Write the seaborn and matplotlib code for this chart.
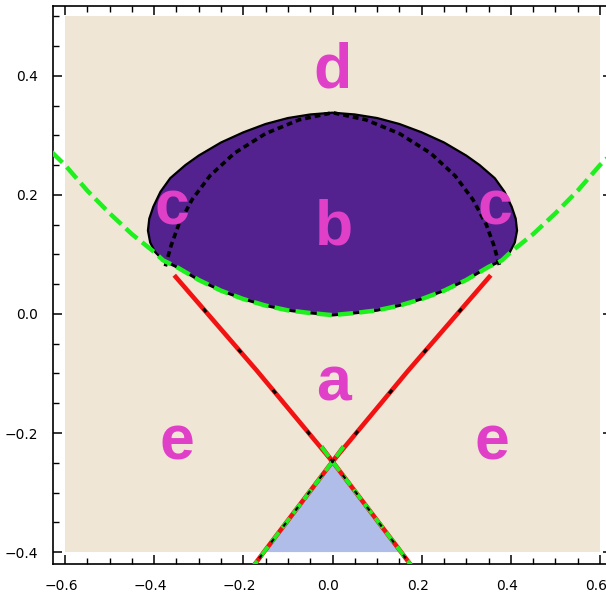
import numpy as np
import matplotlib
matplotlib.use("Agg")
import matplotlib.pyplot as plt
import matplotlib.transforms as mtransforms
import seaborn as sns
from matplotlib.ticker import MultipleLocator

# ---- data ----
region_x = [-0.6, 0.6]
region_y = [-0.4, 0.5]

# green dashed curve (lower edge of the purple region and its continuation)
green_x = [-0.63, -0.6, -0.55, -0.5, -0.45, -0.4, -0.38, -0.35, -0.3, -0.25, -0.2, -0.15, -0.1, -0.05,
           0.0, 0.05, 0.1, 0.15, 0.2, 0.25, 0.3, 0.35, 0.38, 0.4, 0.45, 0.5, 0.55, 0.6, 0.63]
green_y = [0.272, 0.25, 0.207, 0.169, 0.134, 0.104, 0.09, 0.079, 0.057, 0.039, 0.025, 0.014, 0.006, 0.0015,
           -0.002, 0.0015, 0.006, 0.014, 0.025, 0.039, 0.057, 0.079, 0.09, 0.104, 0.134, 0.169, 0.207, 0.25, 0.272]

# upper boundary of the purple region
ell_x = [-0.38, -0.398, -0.409, -0.414, -0.411, -0.402, -0.386, -0.364, -0.33, -0.3, -0.25, -0.2, -0.15,
         -0.1, -0.05, 0.0, 0.05, 0.1, 0.15, 0.2, 0.25, 0.3, 0.33, 0.364, 0.386, 0.402, 0.411, 0.414,
         0.409, 0.398, 0.38]
ell_y = [0.09, 0.104, 0.12, 0.14, 0.16, 0.18, 0.205, 0.228, 0.25, 0.266, 0.288, 0.305, 0.319,
         0.329, 0.335, 0.338, 0.335, 0.329, 0.319, 0.305, 0.288, 0.266, 0.25, 0.228, 0.205, 0.18, 0.16, 0.14,
         0.12, 0.104, 0.09]

# black dotted arc inside the purple region
dot_x = [-0.375, -0.362, -0.345, -0.315, -0.275, -0.22, -0.15, -0.075, 0.0,
         0.075, 0.15, 0.22, 0.275, 0.315, 0.345, 0.362, 0.375]
dot_y = [0.08, 0.115, 0.15, 0.192, 0.232, 0.27, 0.303, 0.326, 0.338,
         0.326, 0.303, 0.27, 0.232, 0.192, 0.15, 0.115, 0.08]

# red lines above the crossing
red_left_x = [-0.355, -0.17, 0.0]
red_left_y = [0.065, -0.095, -0.248]
red_right_x = [0.355, 0.17, 0.0]
red_right_y = [0.065, -0.095, -0.248]

# lines below the crossing (edges of the blue triangle)
low_left_x = [0.025, 0.0, -0.156, -0.19]
low_left_y = [-0.223, -0.248, -0.402, -0.436]
low_right_x = [-0.025, 0.0, 0.156, 0.19]
low_right_y = [-0.223, -0.248, -0.402, -0.436]

tri_x = [0.0, -0.153, 0.153]
tri_y = [-0.248, -0.4, -0.4]

labels = ["d", "b", "c", "c", "a", "e", "e"]
label_x = [0.0, 0.003, -0.36, 0.365, 0.003, -0.35, 0.357]
label_y = [0.38, 0.116, 0.15, 0.15, -0.145, -0.245, -0.245]

# ---- colours ----
beige = "#EFE6D6"
purple = "#54228F"
lightblue = "#B0BDE8"
magenta = "#E03FC8"
red = "#F21212"
green = "#1EF01E"

fig = plt.figure(figsize=(6.06, 5.96), dpi=100)
ax = fig.add_axes([53 / 606, 32 / 596, 559 / 606, 558.5 / 596])
ax.set_facecolor("white")

ax.fill_between(region_x, region_y[0], region_y[1], color=beige, lw=0, zorder=0)
ax.fill(tri_x, tri_y, color=lightblue, lw=0, zorder=1)

gx = np.array(green_x)
gy = np.array(green_y)
inside = np.abs(gx) <= 0.38
poly_x = list(ell_x) + list(gx[inside][::-1])
poly_y = list(ell_y) + list(gy[inside][::-1])
ax.fill(poly_x, poly_y, color=purple, lw=0, zorder=2)

def line(x, y, **kw):
    sns.lineplot(x=x, y=y, sort=False, estimator=None, ax=ax, legend=False, **kw)

line(ell_x, ell_y, color="black", linewidth=1.6, zorder=3)
line(dot_x, dot_y, color="black", linewidth=2.6, linestyle=(0, (1.6, 1.1)), zorder=3)

# red lines
for xs, ys in [(red_left_x, red_left_y), (red_right_x, red_right_y),
               (low_left_x, low_left_y), (low_right_x, low_right_y)]:
    line(xs, ys, color=red, linewidth=3.3, zorder=4, solid_capstyle="butt")
for xs, ys in [(red_left_x, red_left_y), (red_right_x, red_right_y)]:
    line(xs, ys, color="black", linewidth=2.2, linestyle=(3, (1.5, 16)), zorder=5)

# black line under green along the bottom of the purple region
line(list(gx[inside]), list(gy[inside]), color="black", linewidth=2.0, zorder=4)

# green dashed
line(green_x, green_y, color=green, linewidth=3.2, linestyle=(0, (3.4, 1.4)), zorder=6)
for xs, ys in [(low_left_x, low_left_y), (low_right_x, low_right_y)]:
    line(xs, ys, color=green, linewidth=2.8, linestyle=(0, (3.2, 1.4)), zorder=6)
    line(xs, ys, color="black", linewidth=1.6, linestyle=(2, (2, 7)), zorder=7)

for s, x, y in zip(labels, label_x, label_y):
    ax.text(x, y, s, color=magenta, fontsize=45, fontweight="bold",
            family=["Liberation Sans", "DejaVu Sans"], ha="center", va="baseline", zorder=8)

ax.set_xlim(-0.627, 0.627)
ax.set_ylim(-0.42, 0.518)
ax.xaxis.set_major_locator(MultipleLocator(0.2))
ax.xaxis.set_minor_locator(MultipleLocator(0.05))
ax.yaxis.set_major_locator(MultipleLocator(0.2))
ax.yaxis.set_minor_locator(MultipleLocator(0.05))
ax.tick_params(which="both", direction="in", top=True, right=True, labelsize=10,
               pad=10.5, colors="black")
ax.tick_params(which="major", length=6.5, width=1.1)
ax.tick_params(which="minor", length=4.3, width=1.0)
fmt = matplotlib.ticker.FuncFormatter(lambda v, p: f"{v:.1f}".replace("-", "\u2212"))
ax.xaxis.set_major_formatter(fmt)
ax.yaxis.set_major_formatter(fmt)
# x labels sit a little left of their ticks in the original
shift = mtransforms.ScaledTranslation(-4 / 100, 0, fig.dpi_scale_trans)
for lab in ax.get_xticklabels():
    lab.set_transform(lab.get_transform() + shift)
for sp in ax.spines.values():
    sp.set_linewidth(1.2)
ax.set_xlabel("")
ax.set_ylabel("")

fig.savefig("out.png", dpi=100)
